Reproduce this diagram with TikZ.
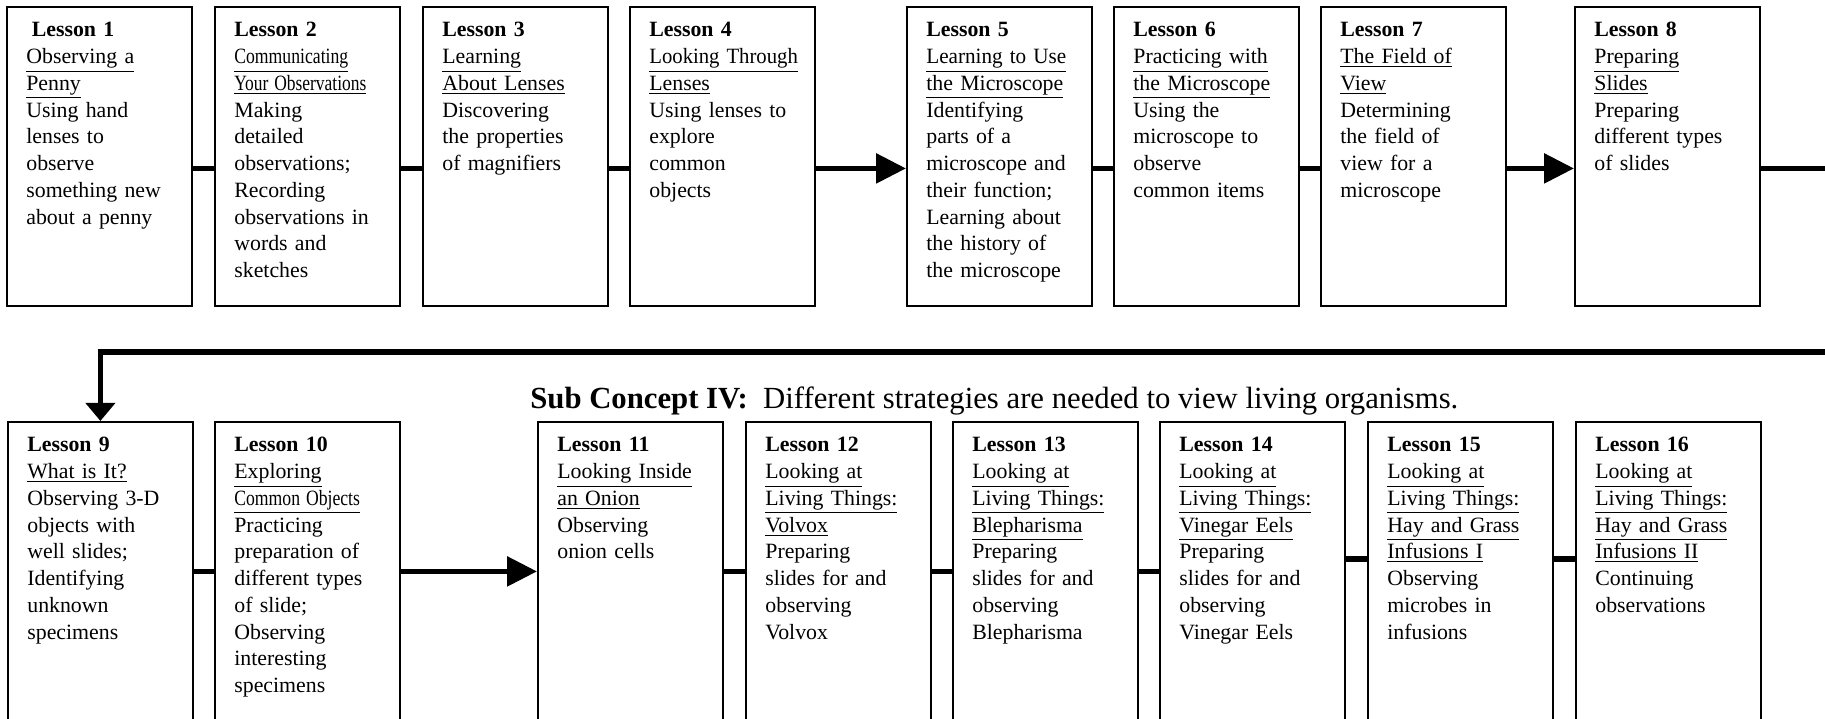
\documentclass[tikz,border=0pt]{standalone}
\usepackage{fontspec}
\setmainfont{Liberation Serif}
\usepackage{tikz}
\usetikzlibrary{arrows.meta, positioning, calc}
\newcommand{\tight}[2][0.81]{\scalebox{#1}[1]{#2}}

\begin{document}
\begin{tikzpicture}[x=0.55pt, y=-0.55pt, >={Triangle[length=16.5pt, width=16pt]},
    lesson/.style={draw, line width=1pt, anchor=north west, inner sep=0pt,
        minimum width=101.75pt, minimum height=164.45pt},
    lessontext/.style={anchor=base west, inner sep=0pt, text width=96pt, align=left,
        font=\fontsize{12}{14.7}\selectfont},
    heading/.style={anchor=base west, inner sep=0pt, font=\fontsize{16.9}{20}\selectfont},
    link/.style={line width=3pt},
    flow/.style={line width=3pt, ->}]
    \useasboundingbox (0,0) rectangle (1825,718);
    \clip (0,0) rectangle (1825,718);

    % first row
    \node[lesson] (l1) at (6,6) {};
    \node[lesson] (l2) at (214,6) {};
    \node[lesson] (l3) at (422,6) {};
    \node[lesson] (l4) at (629,6) {};
    \node[lesson] (l5) at (906,6) {};
    \node[lesson] (l6) at (1113,6) {};
    \node[lesson] (l7) at (1320,6) {};
    \node[lesson] (l8) at (1574,6) {};

    \node[lessontext] (t1) at ([shift={(11pt,-17pt)}]l1.north west) {\textbf{\hspace{3pt}Lesson 1}\\ \underline{Observing a}\\ \underline{Penny}\\ Using hand\\ lenses to\\ observe\\ something new\\ about a penny};
    \node[lessontext] (t2) at ([shift={(11pt,-17pt)}]l2.north west) {\textbf{Lesson 2}\\ \underline{\tight{Communicating}}\\ \underline{\tight[0.8]{Your Observations}}\\ Making\\ detailed\\ observations;\\ Recording\\ observations in\\ words and\\ sketches};
    \node[lessontext] (t3) at ([shift={(11pt,-17pt)}]l3.north west) {\textbf{Lesson 3}\\ \underline{Learning}\\ \underline{About Lenses}\\ Discovering\\ the properties\\ of magnifiers};
    \node[lessontext] (t4) at ([shift={(11pt,-17pt)}]l4.north west) {\textbf{Lesson 4}\\ \underline{\tight[0.95]{Looking Through}}\\ \underline{Lenses}\\ Using lenses to\\ explore\\ common\\ objects};
    \node[lessontext] (t5) at ([shift={(11pt,-17pt)}]l5.north west) {\textbf{Lesson 5}\\ \underline{\tight[0.97]{Learning to Use}}\\ \underline{the Microscope}\\ Identifying\\ parts of a\\ microscope and\\ their function;\\ Learning about\\ the history of\\ the microscope};
    \node[lessontext] (t6) at ([shift={(11pt,-17pt)}]l6.north west) {\textbf{Lesson 6}\\ \underline{Practicing with}\\ \underline{the Microscope}\\ Using the\\ microscope to\\ observe\\ common items};
    \node[lessontext] (t7) at ([shift={(11pt,-17pt)}]l7.north west) {\textbf{Lesson 7}\\ \underline{The Field of}\\ \underline{View}\\ Determining\\ the field of\\ view for a\\ microscope};
    \node[lessontext] (t8) at ([shift={(11pt,-17pt)}]l8.north west) {\textbf{Lesson 8}\\ \underline{Preparing}\\ \underline{Slides}\\ Preparing\\ different types\\ of slides};

    \draw[link] ([yshift=-6.6pt]l1.east) -- ([yshift=-6.6pt]l2.west);
    \draw[link] ([yshift=-6.6pt]l2.east) -- ([yshift=-6.6pt]l3.west);
    \draw[link] ([yshift=-6.6pt]l3.east) -- ([yshift=-6.6pt]l4.west);
    \draw[flow] ([yshift=-6.6pt]l4.east) -- ([yshift=-6.6pt]l5.west);
    \draw[link] ([yshift=-6.6pt]l5.east) -- ([yshift=-6.6pt]l6.west);
    \draw[link] ([yshift=-6.6pt]l6.east) -- ([yshift=-6.6pt]l7.west);
    \draw[flow] ([yshift=-6.6pt]l7.east) -- ([yshift=-6.6pt]l8.west);

    \node[heading] (sub) at (530,408) {\textbf{Sub Concept IV:}\ \ Different strategies are needed to view living organisms.};

    % second row
    \node[lesson] (l9) at (7,421) {};
    \node[lesson] (l10) at (214,421) {};
    \node[lesson] (l11) at (537,421) {};
    \node[lesson] (l12) at (745,421) {};
    \node[lesson] (l13) at (952,421) {};
    \node[lesson] (l14) at (1159,421) {};
    \node[lesson] (l15) at (1367,421) {};
    \node[lesson] (l16) at (1575,421) {};

    \node[lessontext] (t9) at ([shift={(11pt,-17pt)}]l9.north west) {\textbf{Lesson 9}\\ \underline{What is It?}\\ Observing 3-D\\ objects with\\ well slides;\\ Identifying\\ unknown\\ specimens};
    \node[lessontext] (t10) at ([shift={(11pt,-17pt)}]l10.north west) {\textbf{Lesson 10}\\ \underline{Exploring}\\ \underline{\tight{Common Objects}}\\ Practicing\\ preparation of\\ different types\\ of slide;\\ Observing\\ interesting\\ specimens};
    \node[lessontext] (t11) at ([shift={(11pt,-17pt)}]l11.north west) {\textbf{Lesson 11}\\ \underline{Looking Inside}\\ \underline{an Onion}\\ Observing\\ onion cells};
    \node[lessontext] (t12) at ([shift={(11pt,-17pt)}]l12.north west) {\textbf{Lesson 12}\\ \underline{Looking at}\\ \underline{Living Things:}\\ \underline{Volvox}\\ Preparing\\ slides for and\\ observing\\ Volvox};
    \node[lessontext] (t13) at ([shift={(11pt,-17pt)}]l13.north west) {\textbf{Lesson 13}\\ \underline{Looking at}\\ \underline{Living Things:}\\ \underline{Blepharisma}\\ Preparing\\ slides for and\\ observing\\ Blepharisma};
    \node[lessontext] (t14) at ([shift={(11pt,-17pt)}]l14.north west) {\textbf{Lesson 14}\\ \underline{Looking at}\\ \underline{Living Things:}\\ \underline{Vinegar Eels}\\ Preparing\\ slides for and\\ observing\\ Vinegar Eels};
    \node[lessontext] (t15) at ([shift={(11pt,-17pt)}]l15.north west) {\textbf{Lesson 15}\\ \underline{Looking at}\\ \underline{Living Things:}\\ \underline{Hay and Grass}\\ \underline{Infusions I}\\ Observing\\ microbes in\\ infusions};
    \node[lessontext] (t16) at ([shift={(11pt,-17pt)}]l16.north west) {\textbf{Lesson 16}\\ \underline{Looking at}\\ \underline{Living Things:}\\ \underline{Hay and Grass}\\ \underline{Infusions II}\\ Continuing\\ observations};

    % return line from lesson 8 down to lesson 9
    \coordinate (bend) at (1900,352);
    \draw[link, -{Triangle[length=10pt, width=16pt]}] ([yshift=-6.6pt]l8.east) -| (bend) -| (l9.north);

    \draw[link] (l9.east) -- (l10.west);
    \draw[flow] (l10.east) -- (l11.west);
    \draw[link] (l11.east) -- (l12.west);
    \draw[link] (l12.east) -- (l13.west);
    \draw[link] (l13.east) -- (l14.west);
    \draw[link] ([yshift=6.9pt]l14.east) -- ([yshift=6.9pt]l15.west);
    \draw[link] ([yshift=6.9pt]l15.east) -- ([yshift=6.9pt]l16.west);
\end{tikzpicture}
\end{document}
